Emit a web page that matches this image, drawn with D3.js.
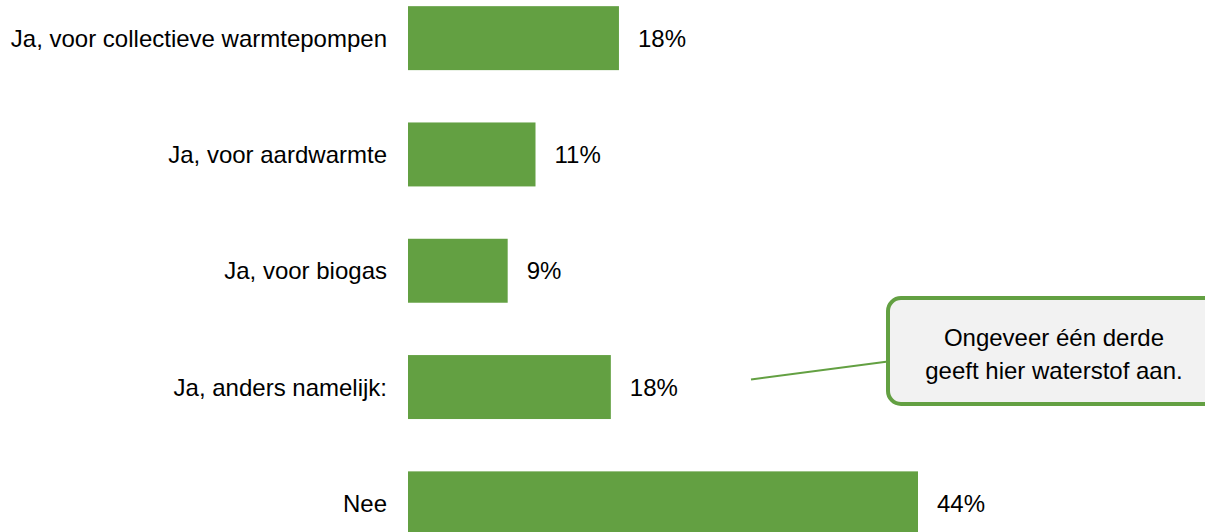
<!DOCTYPE html>
<html><head><meta charset="utf-8">
<script src="https://cdn.jsdelivr.net/npm/d3@7"></script>
<style>body{margin:0;background:#fff}svg{display:block}text{font-family:"Liberation Sans",Arial,sans-serif;fill:#000}</style>
</head><body>
<svg id="c" width="1205" height="532"></svg>
<script>
const categories = ["Ja, voor collectieve warmtepompen","Ja, voor aardwarmte","Ja, voor biogas","Ja, anders namelijk:","Nee"];
const values = [18.2, 11.0, 8.6, 17.5, 44.0];
const valueLabels = ["18%","11%","9%","18%","44%"];
const calloutLines = ["Ongeveer één derde","geeft hier waterstof aan."];

const green = "#63A042";
const svg = d3.select("#c");
const x = d3.scaleLinear().domain([0, 44]).range([408, 918]);
const y = d3.scaleBand().domain(categories).range([-20, 561.5]).paddingInner(0.45).paddingOuter(0.225);

svg.selectAll("rect.bar").data(categories).join("rect").attr("class","bar")
  .attr("x", x(0)).attr("y", d => y(d))
  .attr("width", (d,i) => x(values[i]) - x(0)).attr("height", y.bandwidth())
  .attr("fill", green);

svg.selectAll("text.cat").data(categories).join("text").attr("class","cat")
  .attr("x", x(0) - 21).attr("y", d => y(d) + y.bandwidth()/2)
  .attr("text-anchor","end").attr("dominant-baseline","central")
  .attr("font-size", 24).text(d => d);

svg.selectAll("text.val").data(categories).join("text").attr("class","val")
  .attr("x", (d,i) => x(values[i]) + 19).attr("y", d => y(d) + y.bandwidth()/2)
  .attr("dominant-baseline","central").attr("font-size", 24)
  .text((d,i) => valueLabels[i]);

// callout
const cy = y("Ja, anders namelijk:") + y.bandwidth()/2;
svg.append("line").attr("x1", 751).attr("y1", cy - 7.5).attr("x2", 888).attr("y2", cy - 25.5)
  .attr("stroke", green).attr("stroke-width", 2);
svg.append("rect").attr("x", 888).attr("y", 298).attr("width", 330).attr("height", 106)
  .attr("rx", 13).attr("fill", "#F2F2F2").attr("stroke", green).attr("stroke-width", 4);
svg.selectAll("text.call").data(calloutLines).join("text").attr("class","call")
  .attr("x", 1054).attr("y", (d,i) => 337 + i*33)
  .attr("text-anchor","middle").attr("dominant-baseline","central").attr("font-size", 24)
  .text(d => d);
</script>
</body></html>
